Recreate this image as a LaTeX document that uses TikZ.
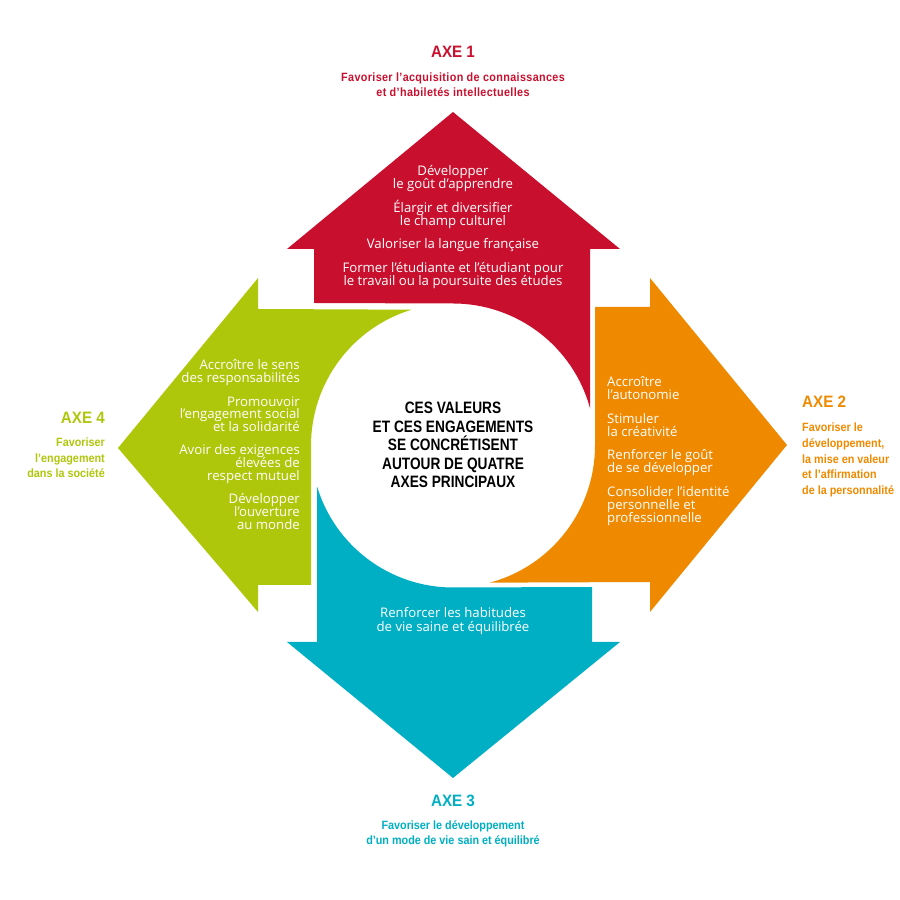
\documentclass[tikz,border=0pt]{standalone}
\usepackage{fontspec}
\setmainfont{Open Sans}
\newfontfamily\condfont[FakeStretch=0.92]{Liberation Sans}
\newfontfamily\centerfont[FakeStretch=0.83]{Liberation Sans}
\newfontfamily\subfont[FakeStretch=0.9]{Liberation Sans}
\newfontfamily\subfontA[FakeStretch=0.9,LetterSpace=3]{Liberation Sans}
\usetikzlibrary{calc}
\definecolor{axered}{HTML}{C8102E}
\definecolor{axeorange}{HTML}{EF8A00}
\definecolor{axegreen}{HTML}{AFC70B}
\definecolor{axeteal}{HTML}{00AFC4}
% stacks of lines with a fixed baseline pitch; baseline = first line
\newcommand\stackc[2]{\vtop{\baselineskip=#1\lineskiplimit=-100pt\lineskip=0pt\halign{\hfil##\hfil\cr#2\crcr}}}
\newcommand\stackl[2]{\vtop{\baselineskip=#1\lineskiplimit=-100pt\lineskip=0pt\halign{##\hfil\cr#2\crcr}}}
\newcommand\stackr[2]{\vtop{\baselineskip=#1\lineskiplimit=-100pt\lineskip=0pt\halign{\hfil##\cr#2\crcr}}}
\newcommand\grp{\noalign{\vskip10.5pt}}
\tikzset{
  inner/.style={text=white, inner sep=0pt, font=\fontsize{13.2}{13.2}\selectfont},
  centertxt/.style={text=black, inner sep=0pt, font=\centerfont\bfseries\fontsize{16.5}{18.5}\selectfont},
  axetitle/.style={inner sep=0pt, font=\condfont\bfseries\fontsize{16.5}{18}\selectfont},
  axesub/.style={inner sep=0pt, font=\subfont\bfseries\fontsize{12}{15.5}\selectfont},
}
\begin{document}
\begin{tikzpicture}[x=1pt,y=1pt]
\useasboundingbox (0,0) rectangle (900,900);
\coordinate (C) at (453,454.5);
% red arrow (up)
\fill[axered] (314,597) -- (314,651) -- (287,651) -- (453,788) -- (620,651) -- (590,651)
  -- ($(C)+(15:142)$) arc[start angle=15,end angle=90,radius=142] -- cycle;
% green arrow (left)
\fill[axegreen] (258,591) -- (258,622) -- (118,452) -- (258,288) -- (258,315) -- (311,315)
  -- ($(C)+(180:142)$) arc[start angle=180,end angle=107,radius=142] -- cycle;
% orange arrow (right)
\fill[axeorange] (595,593) -- (650,593) -- (650,622) -- (787,455) -- (650,288) -- (650,318)
  -- ($(C)+(-75:142)$) arc[start angle=-75,end angle=0,radius=142] -- cycle;
% teal arrow (down)
\fill[axeteal] (592,313) -- (592,258) -- (620,258) -- (453,122) -- (287,258) -- (317,258)
  -- ($(C)+(197:142)$) arc[start angle=197,end angle=270,radius=142] -- cycle;

% inner texts
\node[inner, anchor=base] (redtxt) at (453,724) {\stackc{13pt}{Développer\cr le goût d’apprendre\cr\grp Élargir et diversifier\cr le champ culturel\cr\grp Valoriser la langue française\cr\grp Former l’étudiante et l’étudiant pour\cr le travail ou la poursuite des études}};
\node[inner, anchor=base west] (orangetxt) at (607,513) {\stackl{13pt}{Accroître\cr l’autonomie\cr\grp Stimuler\cr la créativité\cr\grp Renforcer le goût\cr de se développer\cr\grp Consolider l’identité\cr personnelle et\cr professionnelle}};
\node[inner, anchor=base east] (greentxt) at (300,530) {\stackr{12.8pt}{Accroître le sens\cr des responsabilités\cr\grp Promouvoir\cr l’engagement social\cr et la solidarité\cr\grp Avoir des exigences\cr élevées de\cr respect mutuel\cr\grp Développer\cr l’ouverture\cr au monde}};
\node[inner, anchor=base] (tealtxt) at (453,282) {\stackc{13.5pt}{Renforcer les habitudes\cr de vie saine et équilibrée}};

% center
\node[centertxt, anchor=base] (center) at (453,486) {\stackc{18.5pt}{CES VALEURS\cr ET CES ENGAGEMENTS\cr SE CONCRÉTISENT\cr AUTOUR DE QUATRE\cr AXES PRINCIPAUX}};

% axis labels
\node[axetitle, text=axered, anchor=base] (axe1) at (453,842) {AXE 1};
\node[axesub, font=\subfontA\bfseries\fontsize{12}{15}\selectfont, text=axered, anchor=base] (axe1sub) at (453,818) {\stackc{15pt}{Favoriser l’acquisition de connaissances\cr et d’habiletés intellectuelles}};
\node[axetitle, text=axeorange, anchor=base west] (axe2) at (802,492) {AXE 2};
\node[axesub, text=axeorange, anchor=base west] (axe2sub) at (802,468) {\stackl{15.6pt}{Favoriser le\cr développement,\cr la mise en valeur\cr et l’affirmation\cr de la personnalité}};
\node[axetitle, text=axeteal, anchor=base] (axe3) at (453,93) {AXE 3};
\node[axesub, text=axeteal, anchor=base] (axe3sub) at (453,70) {\stackc{14.5pt}{Favoriser le développement\cr d’un mode de vie sain et équilibré}};
\node[axetitle, text=axegreen, anchor=base east] (axe4) at (105,476) {AXE 4};
\node[axesub, text=axegreen, anchor=base east] (axe4sub) at (105,453) {\stackr{15.5pt}{Favoriser\cr l’engagement\cr dans la société}};
\end{tikzpicture}
\end{document}
